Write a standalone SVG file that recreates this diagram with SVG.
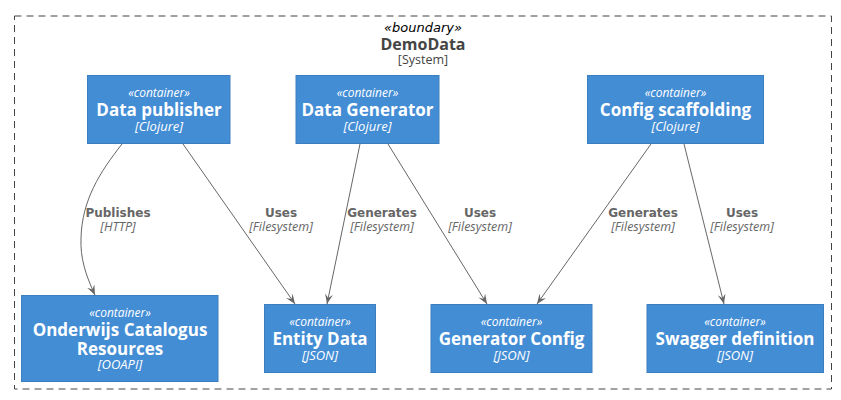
<svg xmlns="http://www.w3.org/2000/svg" width="841" height="400" viewBox="0 0 841 400">
<style>
.box{fill:#438DD5;stroke:#3C7FC0;stroke-width:1}
.st{font-family:"Open Sans",sans-serif;font-style:italic;font-size:12px;fill:#FFFFFF;text-anchor:middle}
.nm{font-family:"Open Sans",sans-serif;font-weight:bold;font-size:17px;fill:#FFFFFF;text-anchor:middle}
.tc{font-family:"Open Sans",sans-serif;font-style:italic;font-size:13px;fill:#FFFFFF;text-anchor:middle}
.edge{fill:none;stroke:#666666;stroke-width:1;marker-end:url(#arr)}
.el{font-family:"DejaVu Sans",sans-serif;font-weight:bold;font-size:12px;fill:#666666;text-anchor:middle}
.et{font-family:"Open Sans",sans-serif;font-style:italic;font-size:12.5px;fill:#666666;text-anchor:middle}
</style>
<defs>
<marker id="arr" markerUnits="userSpaceOnUse" markerWidth="12" markerHeight="10" refX="10" refY="4" orient="auto">
<path d="M0,0 L10,4 L0,8 L4,4 Z" fill="#666666"/>
</marker>
</defs>
<rect width="841" height="400" fill="#FFFFFF"/>
<g id="boundary">
<rect x="14.5" y="16" width="817" height="373" fill="none" stroke="#444444" stroke-width="1" stroke-dasharray="7,5"/>
<text x="423" y="31.5" style="font-family:'DejaVu Sans',sans-serif;font-style:italic;font-size:13px;fill:#000000;text-anchor:middle">«boundary»</text>
<text x="423" y="50" style="font-family:'Open Sans',sans-serif;font-weight:bold;font-size:16px;fill:#444444;text-anchor:middle">DemoData</text>
<text x="423" y="64" style="font-family:'Open Sans',sans-serif;font-size:12.5px;fill:#444444;text-anchor:middle">[System]</text>
</g>
<g id="data-publisher">
<rect class="box" x="87.5" y="75.5" width="142.5" height="68"/>
<text class="st" x="159" y="97">«container»</text>
<text class="nm" x="159" y="116">Data publisher</text>
<text class="tc" x="159" y="131">[Clojure]</text>
</g>
<g id="data-generator">
<rect class="box" x="296" y="75.5" width="143" height="68"/>
<text class="st" x="367.5" y="97">«container»</text>
<text class="nm" x="367.5" y="116">Data Generator</text>
<text class="tc" x="367.5" y="131">[Clojure]</text>
</g>
<g id="config-scaffolding">
<rect class="box" x="587.5" y="75.5" width="176" height="68"/>
<text class="st" x="675.5" y="97">«container»</text>
<text class="nm" x="675.5" y="116">Config scaffolding</text>
<text class="tc" x="675.5" y="131">[Clojure]</text>
</g>
<g id="onderwijs">
<rect class="box" x="21.5" y="295.5" width="196.5" height="86"/>
<text class="st" x="120" y="317">«container»</text>
<text class="nm" x="120" y="336">Onderwijs Catalogus</text>
<text class="nm" x="120" y="354.5">Resources</text>
<text class="tc" x="120" y="369">[OOAPI]</text>
</g>
<g id="entity-data">
<rect class="box" x="264.5" y="304.5" width="111" height="68"/>
<text class="st" x="320" y="326">«container»</text>
<text class="nm" x="320" y="345">Entity Data</text>
<text class="tc" x="320" y="360">[JSON]</text>
</g>
<g id="generator-config">
<rect class="box" x="431" y="304.5" width="161" height="68"/>
<text class="st" x="511.5" y="326">«container»</text>
<text class="nm" x="511.5" y="345">Generator Config</text>
<text class="tc" x="511.5" y="360">[JSON]</text>
</g>
<g id="swagger-definition">
<rect class="box" x="647" y="304.5" width="176.5" height="68"/>
<text class="st" x="735" y="326">«container»</text>
<text class="nm" x="735" y="345">Swagger definition</text>
<text class="tc" x="735" y="360">[JSON]</text>
</g>
<g id="connectors">
<path class="edge" d="M122,144 C100,172 82,200 81,238 C80,258 86,276 95,295"/>
<path class="edge" d="M183,144 L295,304"/>
<path class="edge" d="M360,144 L327,304"/>
<path class="edge" d="M388,144 L487,304"/>
<path class="edge" d="M651,144 L537,304"/>
<path class="edge" d="M684,144 L724,304"/>
<text class="el" x="118" y="217">Publishes</text>
<text class="et" x="118" y="231">[HTTP]</text>
<text class="el" x="281" y="217">Uses</text>
<text class="et" x="281" y="231">[Filesystem]</text>
<text class="el" x="382" y="217">Generates</text>
<text class="et" x="382" y="231">[Filesystem]</text>
<text class="el" x="480" y="217">Uses</text>
<text class="et" x="480" y="231">[Filesystem]</text>
<text class="el" x="643" y="217">Generates</text>
<text class="et" x="643" y="231">[Filesystem]</text>
<text class="el" x="742" y="217">Uses</text>
<text class="et" x="742" y="231">[Filesystem]</text>
</g>
</svg>
